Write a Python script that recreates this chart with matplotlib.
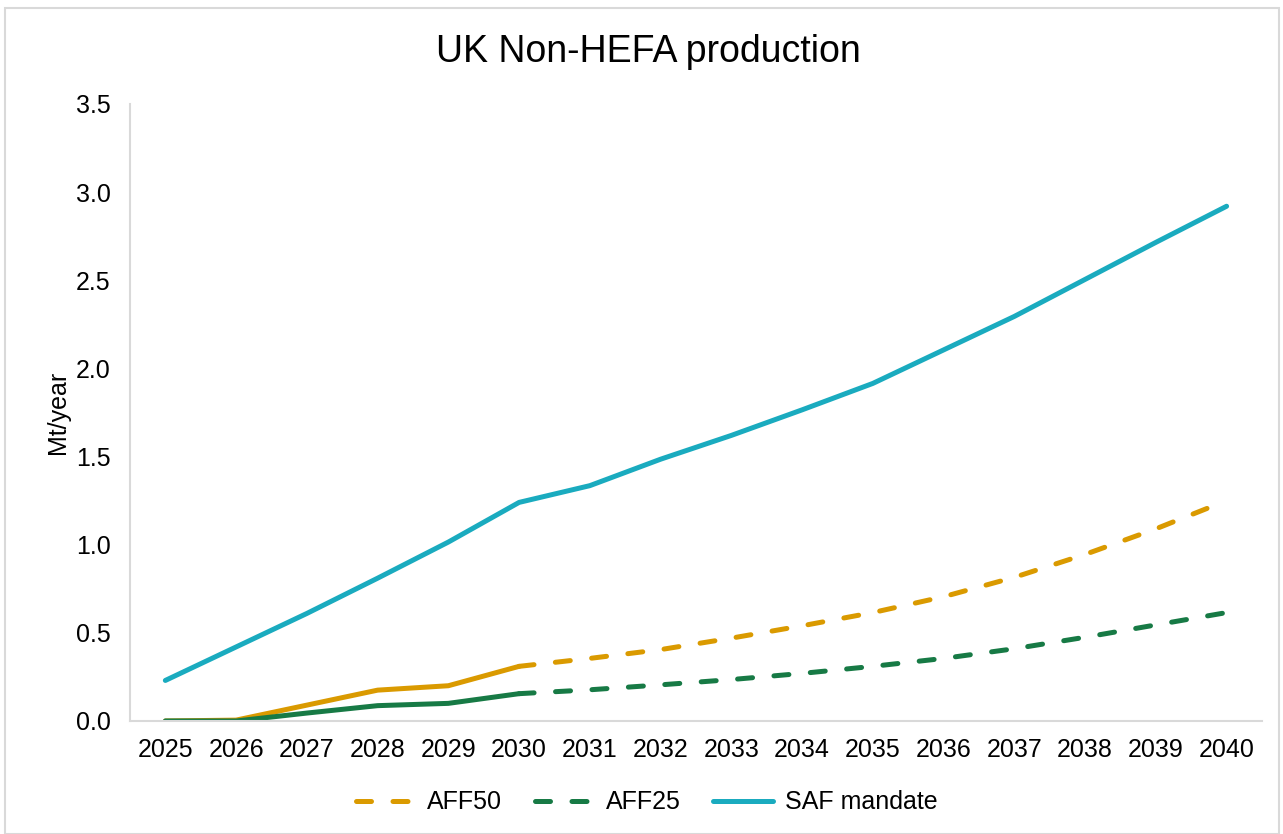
import matplotlib.pyplot as plt
from matplotlib.patches import Rectangle

plt.rcParams['font.family'] = ['Liberation Sans', 'DejaVu Sans']

years = ['2025', '2026', '2027', '2028', '2029', '2030', '2031', '2032',
         '2033', '2034', '2035', '2036', '2037', '2038', '2039', '2040']

# mandate across the whole period
saf_mandate = [0.23, 0.42, 0.61, 0.81, 1.015, 1.24, 1.335, 1.485, 1.62, 1.765,
               1.915, 2.105, 2.295, 2.505, 2.715, 2.92]

# solid part (2025-2030)
aff50_solid = [0.0, 0.005, 0.09, 0.175, 0.20, 0.31]
aff25_solid = [0.0, 0.0, 0.045, 0.087, 0.10, 0.155]

# dashed part (2030-2040)
aff50_dash = [0.31, 0.355, 0.405, 0.47, 0.54, 0.615, 0.705, 0.815, 0.945, 1.09, 1.25]
aff25_dash = [0.155, 0.177, 0.205, 0.235, 0.27, 0.31, 0.355, 0.41, 0.475, 0.545, 0.615]

c_orange = '#DA9A00'
c_green = '#177A45'
c_cyan = '#1AABBF'

fig = plt.figure(figsize=(12.83, 8.34), dpi=100)
ax = fig.add_axes([0.1013, 0.1355, 0.8823, 0.7398])

x = list(range(len(years)))
lw = 3.6

ax.plot(x[:6], aff50_solid, color=c_orange, lw=lw, solid_capstyle='round')
ax.plot(x[:6], aff25_solid, color=c_green, lw=lw, solid_capstyle='round')
l1, = ax.plot(x[5:], aff50_dash, color=c_orange, lw=lw, dashes=(3, 4.3),
              dash_capstyle='round', label='AFF50')
l2, = ax.plot(x[5:], aff25_dash, color=c_green, lw=lw, dashes=(3, 4.3),
              dash_capstyle='round', label='AFF25')
l3, = ax.plot(x, saf_mandate, color=c_cyan, lw=lw, solid_capstyle='round',
              label='SAF mandate')

ax.set_xlim(-0.5, len(years) - 0.5)
ax.set_ylim(0, 3.5)
ax.set_xticks(x)
ax.set_xticklabels(years)
ax.set_yticks([0, 0.5, 1.0, 1.5, 2.0, 2.5, 3.0, 3.5])
ax.set_yticklabels(['0.0', '0.5', '1.0', '1.5', '2.0', '2.5', '3.0', '3.5'])
ax.tick_params(length=0, labelsize=18, pad=12)
ax.tick_params(axis='y', pad=14)

for s in ['top', 'right']:
    ax.spines[s].set_visible(False)
for s in ['left', 'bottom']:
    ax.spines[s].set_color('#D9D9D9')
    ax.spines[s].set_linewidth(1.5)

ax.set_ylabel('Mt/year', fontsize=18, labelpad=4)
fig.text(0.505, 0.938, 'UK Non-HEFA production', ha='center', va='center',
         fontsize=27)

fig.legend(handles=[l1, l2, l3], loc='center', bbox_to_anchor=(0.504, 0.038),
           ncol=3, frameon=False, fontsize=18, handlelength=2.4,
           handletextpad=0.45, columnspacing=1.3)

fig.patches.append(Rectangle((0.004, 0.0), 0.993, 0.991, transform=fig.transFigure,
                             fill=False, edgecolor='#D9D9D9', lw=1.5))

fig.savefig('out.png', dpi=100)
